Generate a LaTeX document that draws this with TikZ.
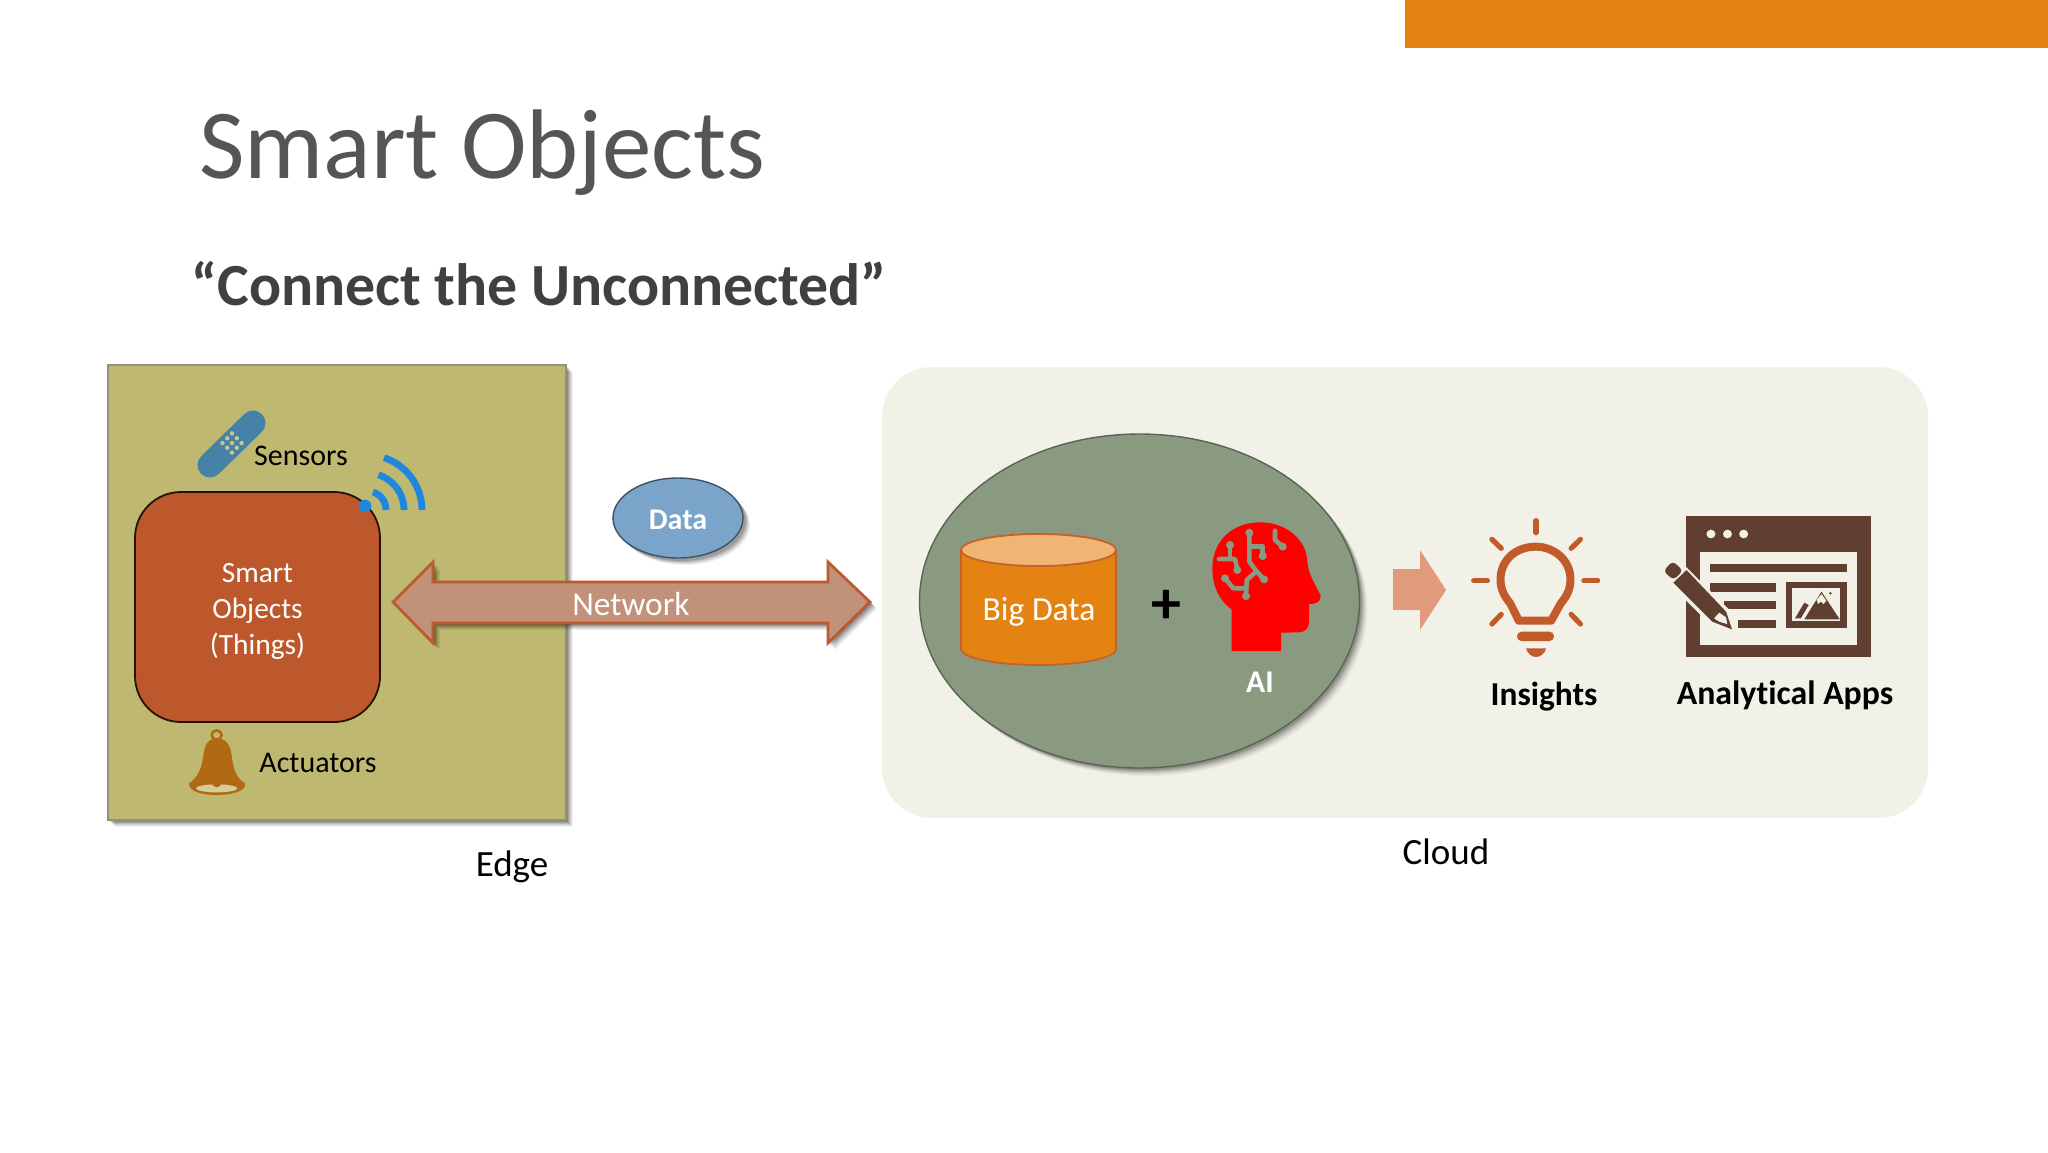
\documentclass[tikz,border=0pt]{standalone}
\usepackage{fontspec}
\setmainfont[Ligatures=NoCommon]{Carlito}
\usetikzlibrary{shapes.geometric,calc}
\definecolor{bandC}{HTML}{E48312}
\definecolor{edgeC}{HTML}{BFB870}
\definecolor{thingC}{HTML}{BC582B}
\definecolor{netC}{HTML}{C2917A}
\definecolor{netE}{HTML}{BC5A30}
\definecolor{dataC}{HTML}{7AA4CA}
\definecolor{cloudC}{HTML}{F2F1E7}
\definecolor{ballC}{HTML}{8A9A81}
\definecolor{cylC}{HTML}{E48312}
\definecolor{cylT}{HTML}{F0B474}
\definecolor{peach}{HTML}{E19A7C}
\definecolor{bulbC}{HTML}{C25A2A}
\definecolor{appC}{HTML}{613F30}
\definecolor{wifiC}{HTML}{1E88E0}
\definecolor{bandageC}{HTML}{4682A8}
\definecolor{bellC}{HTML}{B26A12}
\definecolor{titleC}{HTML}{555555}
\definecolor{subC}{HTML}{404040}
\tikzset{
  lbl/.style={inner sep=0pt,align=center,font=\fontsize{#1}{#1}\selectfont},
  lblb/.style={inner sep=0pt,align=center,font=\fontsize{#1}{#1}\selectfont\bfseries},
  ico/.style={line cap=round,line join=round},
}
\newcommand{\shadowstack}[2]{%
  \foreach \d/\o in {7/.05,6/.07,5/.08,4/.1,3/.12,2/.14}{
    \begin{scope}[shift={(\d,\d)},opacity=\o]
      \fill[black] #1;
    \end{scope}
  }%
}
\begin{document}
\begin{tikzpicture}[x=0.5pt,y=-0.5pt]
\useasboundingbox (0,0) rectangle (2048,1152);
\fill[white] (0,0) rectangle (2048,1152);
\fill[bandC] (1405,0) rectangle (2048,48);
\node[lbl=49.5,text=titleC,anchor=base west] (title) at (199,178) {Smart Objects};
\node[lblb=29.9,text=subC,anchor=base west] (subtitle) at (191,305) {“Connect the Unconnected”};

% Edge panel
\shadowstack{(108,365) rectangle (566,820)}{}
\draw[fill=edgeC,draw=gray!70!edgeC,line width=.7pt] (108,365) rectangle (566,820);
\node[draw=black!80!thingC,fill=thingC,line width=.9pt,rounded corners=23pt,minimum width=122.5pt,minimum height=115pt,inner sep=0pt] (things) at (257.5,607) {};
\node[text=white,inner sep=0pt,align=center,font=\fontsize{14.7}{18}\selectfont] (thingstext) at (257.5,611) {Smart\\Objects\\(Things)};
\node[lbl=15,anchor=center] (sensors) at (301,456) {Sensors};
\node[lbl=15,anchor=center] (actuators) at (318,763) {Actuators};

% bandage
\draw[bandageC,line width=12.5pt,line cap=round] (210,465) -- (253,423);
\foreach \a/\b in {-3/-3,0/-3,3/-3,-3/0,0/0,3/0,-3/3,0/3,3/3}{
  \fill[edgeC!80!white] ($(232,443)+(\a*1.6+\b*1.6,\b*1.6-\a*1.6)$) circle (1.1pt);
}

% wifi
\fill[wifiC] (365,506) circle (3.2pt);
\foreach \r in {19,37,55}{
  \draw[wifiC,line width=3.4pt] plot[domain=0:72,samples=18] ({367+\r*cos(\x)},{510-\r*sin(\x)});
}

% bell
\begin{scope}[shift={(90,350)},x=0.16667pt,y=-0.16667pt]
  \fill[bellC] (340,1215) .. controls (345,1175) and (360,1165) .. (380,1165) .. controls (400,1165) and (420,1175) .. (425,1215) .. controls (430,1260) and (440,1285) .. (465,1300) .. controls (470,1325) and (420,1335) .. (380,1335) .. controls (340,1335) and (295,1325) .. (297,1300) .. controls (320,1285) and (335,1260) .. (340,1215) -- cycle;
  \draw[bellC,line width=1.3pt] (380,1155) circle (15 and 14);
  \fill[edgeC!70!white] (380,1315) ellipse (62 and 12);
  \fill[bellC] (380,1297) circle (15);
\end{scope}

% network arrow
\newcommand{\netpath}{(393,602) -- (433,562) -- (433,582) -- (828,582) -- (828,562) -- (870,602) -- (828,643) -- (828,623) -- (433,623) -- (433,643) -- cycle}
\shadowstack{\netpath}{}
\draw[fill=netC,draw=netE,line width=1.4pt,line join=miter] \netpath;
\node[lbl=16.7,text=white] (network) at (631,604) {Network};

% data
\foreach \d/\o in {7/.05,6/.07,5/.09,4/.11,3/.13}{
  \fill[black,opacity=\o] (678+\d,518+\d) ellipse (65 and 40);
}
\node[ellipse,draw=black!50!dataC,fill=dataC,line width=.7pt,minimum width=65pt,minimum height=40pt,inner sep=0pt] (data) at (678,518) {};
\node[lblb=15,text=white] (datatext) at (678,520) {Data};

% cloud panel
\fill[cloudC,rounded corners=25pt] (882,367) rectangle (1928,818);
\foreach \d/\o in {8/.03,7/.04,6/.05,5/.07,4/.08,3/.1,2/.12}{
  \fill[black,opacity=\o] (1139.5+\d,601+\d) ellipse (220 and 167);
}
\node[ellipse,draw=black!35!ballC,fill=ballC,line width=.7pt,minimum width=220pt,minimum height=167pt,inner sep=0pt] (ball) at (1139.5,601) {};

% cylinder
\draw[fill=cylC,draw=netE!80!cylC,line width=.9pt] (961,550) -- (961,649) arc[start angle=180,end angle=0,x radius=77.5,y radius=16] -- (1116,550) -- cycle;
\draw[fill=cylT,draw=netE!80!cylC,line width=.9pt] (1038.5,550) ellipse (77.5 and 16);
\node[lbl=16.8,text=white] (bigdata) at (1039,612) {Big Data};
\node[lblb=30,text=black] (plus) at (1166,607) {+};

% head
\begin{scope}[shift={(1150,490)},x=0.16667pt,y=-0.16667pt]
  \fill[red] (245,483) -- (245,358) .. controls (205,330) and (187,285) .. (187,235) .. controls (187,150) and (250,97) .. (330,97) .. controls (410,97) and (470,150) .. (472,215) .. controls (475,255) and (495,280) .. (512,318) .. controls (512,335) and (500,342) .. (477,342) -- (477,395) .. controls (477,415) and (465,427) .. (445,427) -- (393,428) -- (393,483) -- cycle;
  \begin{scope}[ballC,line width=2.3pt,ico]
    \draw (298,128) -- (298,215) -- (318,242) -- (342,268);
    \draw (298,170) -- (338,170) -- (338,198);
    \draw (240,165) -- (240,207);
    \draw (207,207) -- (255,207) -- (262,240);
    \draw (318,245) -- (290,270) -- (288,318);
    \draw (225,265) -- (250,295) -- (288,295);
    \draw (375,122) -- (375,150) -- (398,170);
    \foreach \p in {(298,128),(338,198),(240,165),(262,240),(342,268),(288,318),(225,265),(398,170)}{
      \fill \p circle (12);
    }
  \end{scope}
\end{scope}
\node[lblb=15.8,text=white] (ai) at (1260,682) {AI};

% arrow
\fill[peach] (1393,569) -- (1420,569) -- (1420,550) -- (1446,590) -- (1420,630) -- (1420,610) -- (1393,610) -- cycle;

% bulb and app
\begin{scope}[shift={(1380,490)},x=0.17218pt,y=-0.16667pt]
  \draw[bulbC,line width=4pt,line join=round] (415,392) -- (497,392) -- (525,340) .. controls (545,315) and (553,295) .. (553,268) .. controls (553,210) and (505,170) .. (452,170) .. controls (395,170) and (350,210) .. (350,268) .. controls (350,295) and (358,315) .. (378,340) -- (403,392) -- cycle;
  \begin{scope}[bulbC,line width=2.6pt,line cap=round]
    \draw (453,92) -- (453,128);
    \draw (325,148) -- (352,175);
    \draw (582,148) -- (555,175);
    \draw (272,272) -- (312,272);
    \draw (592,272) -- (632,272);
    \draw (325,402) -- (352,373);
    \draw (582,402) -- (555,373);
  \end{scope}
  \fill[bulbC,rounded corners=2.2pt] (398,425) rectangle (505,453);
  \fill[bulbC] (424,475) -- (482,475) .. controls (480,490) and (465,501) .. (453,501) .. controls (440,501) and (428,490) .. (424,475) -- cycle;

  \fill[appC] (888,78) rectangle (1425,502);
  \fill[cloudC] (930,185) rectangle (1385,465);
  \foreach \c in {961,1009,1056}{\fill[cloudC] (\c,132) circle (13);}
  \fill[appC] (957,222) rectangle (1355,247);
  \fill[appC] (957,278) rectangle (1150,305);
  \fill[appC] (1000,332) rectangle (1150,358);
  \fill[appC] (1040,390) rectangle (1150,414);
  \fill[appC] (1178,277) rectangle (1355,414);
  \fill[cloudC] (1195,295) rectangle (1337,392);
  \fill[appC] (1232,388) -- (1282,305) -- (1335,388) -- cycle;
  \fill[cloudC] (1268,330) -- (1282,312) -- (1296,332) -- (1288,342) -- (1280,335) -- (1272,342) -- cycle;
  \fill[appC] (1205,385) -- (1232,338) -- (1245,345) -- (1222,385) -- cycle;
  \fill[appC] (1308,310) circle (4);
  % pencil halo
  \draw[cloudC,line width=3.6pt,line join=round,fill=cloudC] (840,245) -- (865,222) -- (1005,365) -- (1022,418) -- (965,395) -- (852,278) -- cycle;
  \fill[appC] (852,278) -- (890,240) -- (1005,365) -- (1022,418) -- (965,395) -- cycle;
  \fill[appC,rounded corners=2pt] (823,243) -- (850,213) -- (880,242) -- (852,270) -- cycle;
  \fill[cloudC] (985,368) -- (1005,382) -- (1008,402) -- (985,395) -- (970,385) -- cycle;
\end{scope}
\node[lblb=16.7] (insights) at (1544,697) {Insights};
\node[lblb=16.9] (apps) at (1785,695) {Analytical Apps};
\node[lbl=18.5] (edge) at (512,867) {Edge};
\node[lbl=18.5] (cloud) at (1446,852) {Cloud};
\end{tikzpicture}
\end{document}
